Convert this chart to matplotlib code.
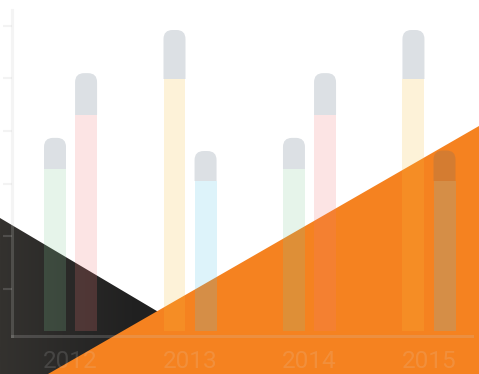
import matplotlib
matplotlib.use("Agg")
import matplotlib.pyplot as plt
import numpy as np
from matplotlib.patches import Polygon, Rectangle, FancyBboxPatch

# data
years = ["2012", "2013", "2014", "2015"]
first_total = [36.7, 57.2, 36.7, 57.2]
first_value = [30.8, 47.9, 30.8, 47.9]
second_total = [49.0, 34.2, 49.0, 34.3]
second_value = [41.1, 28.5, 41.1, 28.5]
first_colors = ["#82c896", "#f5be3c", "#82c896", "#f5be3c"]
second_colors = ["#f07878", "#55c3e6", "#f07878", "#55c3e6"]
cap_color = "#506478"
ytick_pos = [8, 18, 28, 38, 48, 58]

W, H = 479, 374
fig = plt.figure(figsize=(W / 100, H / 100), dpi=100)

# background shapes (pixel coordinates)
bg = fig.add_axes([0, 0, 1, 1])
bg.set_xlim(0, W)
bg.set_ylim(H, 0)
bg.axis("off")
dark = Polygon([(0, 218), (0, H), (263, H)], closed=True, facecolor="none", edgecolor="none")
bg.add_patch(dark)
grad = np.linspace(0, 1, 256).reshape(1, -1)
im = bg.imshow(grad, cmap=matplotlib.colors.LinearSegmentedColormap.from_list("d", ["#34322f", "#212121", "#202020"]),
               extent=(0, 263, H, 218), aspect="auto", zorder=1)
im.set_clip_path(dark)
bg.add_patch(Polygon([(48, H), (W, 126), (W, H)], closed=True, facecolor="#f58220", edgecolor="none", zorder=2))
bg.set_xlim(0, W)
bg.set_ylim(H, 0)

# chart, drawn semi-transparent on top
ax = fig.add_axes([12 / W, 38 / H, 460 / W, 326 / H])
ax.patch.set_alpha(0)
ax.set_xlim(-0.49, 3.36)
ax.set_ylim(-0.95, 61.0)

x = np.arange(len(years))
off = 0.13
bw = 0.184
a = 0.2

# pixel scale for rounding the caps
p0 = ax.transData.transform((0, 0))
p1 = ax.transData.transform((1, 1))
px_x = p1[0] - p0[0]
px_y = p1[1] - p0[1]
r = 9 / px_x
aspect = px_x / px_y

def cap(xc, lo, hi):
    rv = r * aspect
    fb = FancyBboxPatch((xc - bw / 2, lo - rv), bw, hi - lo + rv,
                        boxstyle=f"round,pad=0,rounding_size={r}", mutation_aspect=aspect,
                        facecolor=cap_color, edgecolor="none", alpha=a, zorder=3)
    ax.add_patch(fb)
    clip = Rectangle((xc - bw, lo), 2 * bw, hi - lo + 1, transform=ax.transData)
    fb.set_clip_path(clip)

ax.bar(x - off, first_value, width=bw, color=first_colors, alpha=a, zorder=3)
ax.bar(x + off, second_value, width=bw, color=second_colors, alpha=a, zorder=3)
for i in range(len(years)):
    cap(x[i] - off, first_value[i], first_total[i])
    cap(x[i] + off, second_value[i], second_total[i])

for s in ["top", "right"]:
    ax.spines[s].set_visible(False)
for s in ["left", "bottom"]:
    ax.spines[s].set_color("#c8c8c8")
    ax.spines[s].set_alpha(a)
    ax.spines[s].set_linewidth(2.2)

ax.set_yticks(ytick_pos)
ax.set_yticklabels([])
ax.tick_params(axis="y", length=6.5, width=1.5, color=(0.78, 0.78, 0.78, a))
ax.set_xticks(x)
ax.set_xticklabels(years, family="Roboto", fontsize=17.5, color="#e0e0e0", alpha=0.15)
ax.tick_params(axis="x", length=0, pad=10)

fig.savefig("out.png", dpi=100)
